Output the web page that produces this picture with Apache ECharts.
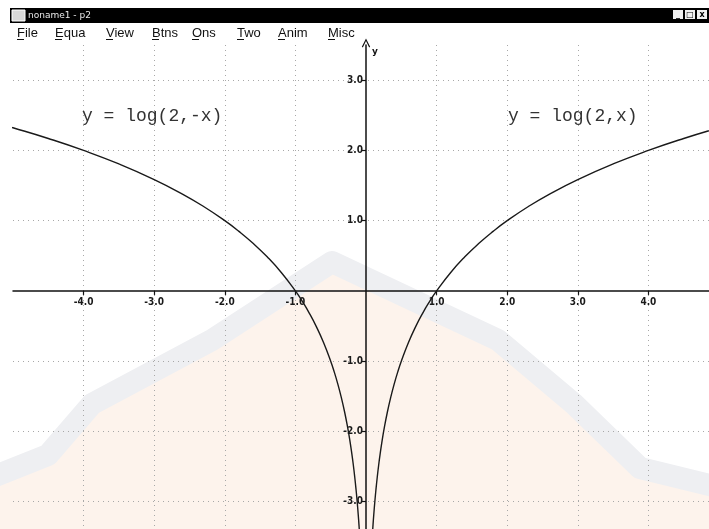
<!DOCTYPE html>
<html>
<head>
<meta charset="utf-8">
<title>log base 2 plot</title>
<script src="https://cdn.jsdelivr.net/npm/echarts@6/dist/echarts.min.js"></script>
<style>
  html, body { margin: 0; padding: 0; background: #ffffff; }
  #chart { width: 709px; height: 529px; }
</style>
</head>
<body>
<div id="chart"></div>
<script>
// Menu captions of the plotting window
const menuItems = ['File', 'Equa', 'View', 'Btns', 'Ons', 'Two', 'Anim', 'Misc'];
const menuX = [17, 55, 106, 152, 192, 237, 278, 328];

// Labelled ticks on both axes
const xTickValues = [-4, -3, -2, -1, 1, 2, 3, 4];
const yTickValues = [-3, -2, -1, 1, 2, 3];

// Curve captions
const leftCaption = 'y = log(2,-x)';
const rightCaption = 'y = log(2,x)';

// Sample magnitudes |x| at which the two branches are evaluated
const xSamples = [0.085, 0.09, 0.1, 0.11, 0.125, 0.14, 0.16, 0.18, 0.2, 0.23, 0.26, 0.3,
                  0.35, 0.4, 0.45, 0.5, 0.6, 0.7, 0.8, 0.9, 1, 1.2, 1.4, 1.6, 1.8, 2,
                  2.3, 2.6, 3, 3.5, 4, 4.5, 5, 5.2];

// y = log(2, x) and its mirror y = log(2, -x)
const rightBranch = xSamples.map(function (x) { return [x, Math.log2(x)]; });
const leftBranch = xSamples.map(function (x) { return [-x, Math.log2(x)]; });

// Plot window in axis units
const X_MIN = -5, X_MAX = 5, Y_MIN = -4, Y_MAX = 3.5;
const GRID = { left: 13, right: -10, top: 45, bottom: -43 };
const W = 709, H = 529;
const plotW = W - GRID.left - GRID.right;
const plotH = H - GRID.top - GRID.bottom;
// Shift each axis from the grid edge onto the other axis' zero
const xAxisOffset = -(plotH * (0 - Y_MIN) / (Y_MAX - Y_MIN));
const yAxisOffset = -(plotW * (0 - X_MIN) / (X_MAX - X_MIN));

const chart = echarts.init(document.getElementById('chart'), null, { renderer: 'canvas' });

const tickFont = {
  fontFamily: '"Liberation Sans Narrow", "DejaVu Sans Condensed", sans-serif',
  fontSize: 10,
  fontWeight: 'bold',
  color: '#1a1a1a'
};

// Window chrome: title bar + menu bar
const chrome = [];
chrome.push({ type: 'rect', shape: { x: 10, y: 8, width: 699, height: 15 }, style: { fill: '#000' }, z: 50 });
chrome.push({ type: 'rect', shape: { x: 12, y: 10, width: 13, height: 11 }, style: { fill: '#d8d8d8', stroke: '#fff', lineWidth: 1 }, z: 51 });
chrome.push({ type: 'text', x: 28, y: 15.5, style: { text: 'noname1 - p2', fill: '#e8e8e8', font: '9px "DejaVu Sans", sans-serif', textVerticalAlign: 'middle' }, z: 51 });
['_', '\u25A1', 'x'].forEach(function (g, i) {
  chrome.push({ type: 'rect', shape: { x: 673 + i * 12, y: 10, width: 10, height: 9 }, style: { fill: '#f0f0f0' }, z: 51 });
  chrome.push({ type: 'text', x: 678 + i * 12, y: 14.5, style: { text: g, fill: '#000', font: 'bold 8px "DejaVu Sans", sans-serif', textAlign: 'center', textVerticalAlign: 'middle' }, z: 52 });
});
menuItems.forEach(function (m, i) {
  chrome.push({ type: 'text', x: menuX[i], y: 33, style: { text: m, fill: '#111', font: '13px "Liberation Sans", Arial, sans-serif', textVerticalAlign: 'middle' }, z: 51 });
  chrome.push({ type: 'line', shape: { x1: menuX[i], y1: 39.5, x2: menuX[i] + 7, y2: 39.5 }, style: { stroke: '#111', lineWidth: 1 }, z: 51 });
});

// Faint emblem in the lower half of the plot
const emblem = {
  type: 'polygon',
  shape: {
    points: [[-20, 482], [48, 455], [92, 404], [212, 340], [332, 262], [498, 340], [574, 404], [640, 468], [730, 490], [730, 560], [-20, 560]]
  },
  style: { fill: '#fdf3ec', stroke: '#eeeff2', lineWidth: 22, lineJoin: 'round' },
  z: -10
};

// Axis caption beside the arrow
const yName = { type: 'text', x: 372, y: 52, style: { text: 'y', fill: '#111', font: 'bold 9px "DejaVu Sans", sans-serif', textVerticalAlign: 'middle' }, z: 20 };

const captionFont = '18px "Liberation Mono", "Courier New", monospace';
const captions = [
  { type: 'text', x: 82, y: 116, style: { text: leftCaption, fill: '#333', font: captionFont, textVerticalAlign: 'middle' }, z: 20 },
  { type: 'text', x: 508, y: 116, style: { text: rightCaption, fill: '#333', font: captionFont, textVerticalAlign: 'middle' }, z: 20 }
];

const option = {
  backgroundColor: '#ffffff',
  animation: false,
  grid: { left: GRID.left, right: GRID.right, top: GRID.top, bottom: GRID.bottom, containLabel: false, outerBoundsMode: 'none' },
  xAxis: {
    type: 'value',
    position: 'bottom',
    offset: xAxisOffset,
    min: X_MIN,
    max: X_MAX,
    interval: 1,
    axisLine: { onZero: false, lineStyle: { color: '#111', width: 1.5 } },
    axisTick: { show: true, length: 4, inside: false, customValues: xTickValues, lineStyle: { color: '#111', width: 1.2 } },
    axisLabel: {
      show: true,
      customValues: xTickValues,
      margin: 6,
      formatter: function (v) { return v.toFixed(1); },
      ...tickFont
    },
    splitLine: { show: true, lineStyle: { color: '#a8a8a8', width: 1, type: [1, 4] } }
  },
  yAxis: {
    type: 'value',
    position: 'left',
    offset: yAxisOffset,
    min: Y_MIN,
    max: Y_MAX,
    interval: 1,
    axisLine: {
      onZero: false,
      symbol: ['none', 'path://M0,10 L5,0 L10,10 L8.8,10.8 L5,3 L1.2,10.8 Z'],
      symbolSize: [9, 9],
      symbolOffset: [0, 2],
      lineStyle: { color: '#111', width: 1.5 }
    },
    axisTick: { show: true, length: 5, inside: false, customValues: yTickValues, lineStyle: { color: '#111', width: 1.2 } },
    axisLabel: {
      show: true,
      customValues: yTickValues,
      margin: 3,
      formatter: function (v) { return v.toFixed(1); },
      ...tickFont
    },
    splitLine: { show: true, lineStyle: { color: '#a8a8a8', width: 1, type: [1, 4] } }
  },
  graphic: [emblem].concat(chrome, [yName], captions),
  series: [
    {
      name: 'log(2,-x)',
      type: 'line',
      data: leftBranch,
      smooth: true,
      showSymbol: false,
      clip: true,
      lineStyle: { color: '#1a1a1a', width: 1.4 },
      z: 5
    },
    {
      name: 'log(2,x)',
      type: 'line',
      data: rightBranch,
      smooth: true,
      showSymbol: false,
      clip: true,
      lineStyle: { color: '#1a1a1a', width: 1.4 },
      z: 5
    }
  ]
};

chart.setOption(option);
</script>
</body>
</html>
